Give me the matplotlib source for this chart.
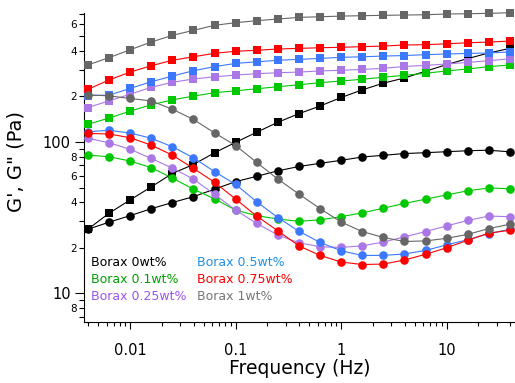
import matplotlib
matplotlib.use("Agg")
import matplotlib.pyplot as plt
from matplotlib.ticker import FixedLocator, FixedFormatter, NullFormatter

plt.rcParams['font.family'] = ['DejaVu Sans']

# Frequency (Hz)
freq = [0.00398, 0.00631, 0.01, 0.0158, 0.0251, 0.0398, 0.0631, 0.1, 0.158, 0.251,
        0.398, 0.631, 1.0, 1.58, 2.51, 3.98, 6.31, 10.0, 15.8, 25.1, 39.8]

labels = ["Borax 0wt%", "Borax 0.1wt%", "Borax 0.25wt%",
          "Borax 0.5wt%", "Borax 0.75wt%", "Borax 1wt%"]

# G' (storage modulus, squares)
Gp_0 = [26.5, 33.8, 41.4, 50.4, 61.9, 71.0, 84.9, 99.5, 116, 135, 154, 173, 197, 221,
        245, 265, 294, 325, 356, 388, 416]
Gp_01 = [131, 144, 160, 176, 190, 201, 212, 218, 225, 232, 239, 247, 253, 260, 268,
         276, 285, 295, 304, 315, 323]
Gp_025 = [169, 187, 207, 230, 248, 261, 270, 277, 283, 287, 290, 295, 298, 302, 307,
          316, 321, 328, 336, 345, 355]
Gp_05 = [203, 204, 226, 250, 273, 296, 315, 331, 339, 347, 352, 357, 363, 366, 370,
         373, 378, 382, 385, 388, 394]
Gp_075 = [223, 257, 290, 319, 347, 366, 386, 398, 404, 412, 416, 420, 423, 427, 431,
          438, 440, 446, 453, 458, 465]
Gp_1 = [323, 361, 407, 458, 507, 547, 591, 615, 634, 650, 667, 673, 680, 684, 688,
        691, 694, 702, 705, 709, 716]

# G'' (loss modulus, circles)
Gpp_0 = [26.5, 29.5, 32.6, 36.2, 39.8, 43.5, 48.8, 54.7, 59.3, 64.5, 68.9, 72.3, 75.7,
         79.6, 81.7, 83.9, 85.0, 86.3, 87.6, 88.3, 86.1]
Gpp_01 = [82.0, 79.9, 74.9, 67.8, 57.8, 48.8, 42.1, 35.5, 32.6, 31.0, 29.9, 30.6, 32.1,
          34.0, 36.5, 39.3, 41.9, 44.7, 47.6, 49.7, 49.1]
Gpp_025 = [105.8, 98.9, 89.6, 78.0, 67.3, 56.9, 45.1, 35.5, 29.0, 24.3, 21.6, 20.3, 20.1,
           20.6, 21.8, 23.6, 25.6, 27.9, 30.3, 32.4, 32.1]
Gpp_05 = [117, 119.5, 114.7, 106, 93.1, 78.7, 63.7, 52.5, 40.3, 31.7, 25.7, 21.7, 19.1,
          17.8, 17.8, 18.2, 19.2, 20.9, 22.6, 24.8, 26.5]
Gpp_075 = [114, 113, 106.8, 95.5, 82.0, 67.0, 54.2, 42.0, 32.4, 25.9, 20.6, 17.8, 16.1,
           15.5, 15.6, 16.6, 18.1, 20.0, 22.4, 25.0, 26.1]
Gpp_1 = [205, 202, 194, 187, 165, 141, 115, 94.8, 73.4, 56.9, 45.3, 36.3, 29.6, 25.6,
         23.4, 22.0, 22.2, 23.1, 24.5, 26.8, 28.6]

colors = ['#000000', '#00c800', '#aa78e6', '#3c78ff', '#ff0000', '#666666']
text_colors = ['#000000', '#00a000', '#9955ee', '#1e90e6', '#ff0000', '#777777']

Gp = [Gp_0, Gp_01, Gp_025, Gp_05, Gp_075, Gp_1]
Gpp = [Gpp_0, Gpp_01, Gpp_025, Gpp_05, Gpp_075, Gpp_1]

W, H = 515, 383
fig = plt.figure(figsize=(W / 100, H / 100), dpi=100)
ax = fig.add_axes([84 / W, 1 - 321.7 / H, (515 - 84) / W, (321.7 - 12.7) / H])

z = 3
for c, g1, g2 in zip(colors, Gp, Gpp):
    ax.plot(freq, g1, '-', color=c, lw=0.8, marker='s', ms=5.8, mec=c, mfc=c,
            mew=0, clip_on=False, zorder=z)
    ax.plot(freq, g2, '-', color=c, lw=0.8, marker='o', ms=6.2, mec=c, mfc=c,
            mew=0, clip_on=False, zorder=z + 0.5)
    z += 1

ax.set_xscale('log')
ax.set_yscale('log')
ax.set_xlim(0.00366, 44.4)
ax.set_ylim(6.49, 716)

for s in ['top', 'right']:
    ax.spines[s].set_visible(False)
for s in ['left', 'bottom']:
    ax.spines[s].set_linewidth(0.8)

# y ticks
ax.yaxis.set_major_locator(FixedLocator([10, 100]))
ax.yaxis.set_major_formatter(FixedFormatter(['10', '100']))
yminor = [m * d for d in (1, 10, 100) for m in range(2, 10)]
yminor_lab = [str(m) if m % 2 == 0 else '' for d in (1, 10, 100) for m in range(2, 10)]
ax.yaxis.set_minor_locator(FixedLocator(yminor))
ax.yaxis.set_minor_formatter(FixedFormatter(yminor_lab))

# x ticks
ax.xaxis.set_major_locator(FixedLocator([0.01, 0.1, 1, 10]))
ax.xaxis.set_major_formatter(FixedFormatter(['0.01', '0.1', '1', '10']))
xminor = [m * d for d in (0.001, 0.01, 0.1, 1, 10) for m in range(2, 10)]
ax.xaxis.set_minor_locator(FixedLocator(xminor))
ax.xaxis.set_minor_formatter(NullFormatter())

ax.tick_params(axis='y', which='major', direction='out', length=6.5, width=0.8,
               pad=3, labelsize=10.5)
ax.tick_params(axis='y', which='minor', direction='out', length=3.6, width=0.8,
               pad=1.2, labelsize=7.5)
ax.tick_params(axis='x', which='major', direction='out', length=5, width=0.8,
               pad=10, labelsize=10.5)
ax.tick_params(axis='x', which='minor', direction='out', length=2.9, width=0.8)

ax.set_xlabel('Frequency (Hz)', fontsize=13.5, va='baseline')
ax.xaxis.set_label_coords(0.5, (321.7 - 374) / 309)
ax.set_ylabel('G\', G" (Pa)', fontsize=14, va='center')
ax.yaxis.set_label_coords((16.5 - 84) / 431, (321.7 - 161.5) / 309)

# text legend
xs = [91.3, 91.3, 91.3, 197.3, 197.3, 197.3]
ys = [266, 282.8, 299.6, 266.5, 283.3, 300]
for lab, tc, x, y in zip(labels, text_colors, xs, ys):
    fig.text(x / W, 1 - y / H, lab, color=tc, fontsize=9, ha='left', va='baseline')

fig.savefig('out.png', dpi=100)
